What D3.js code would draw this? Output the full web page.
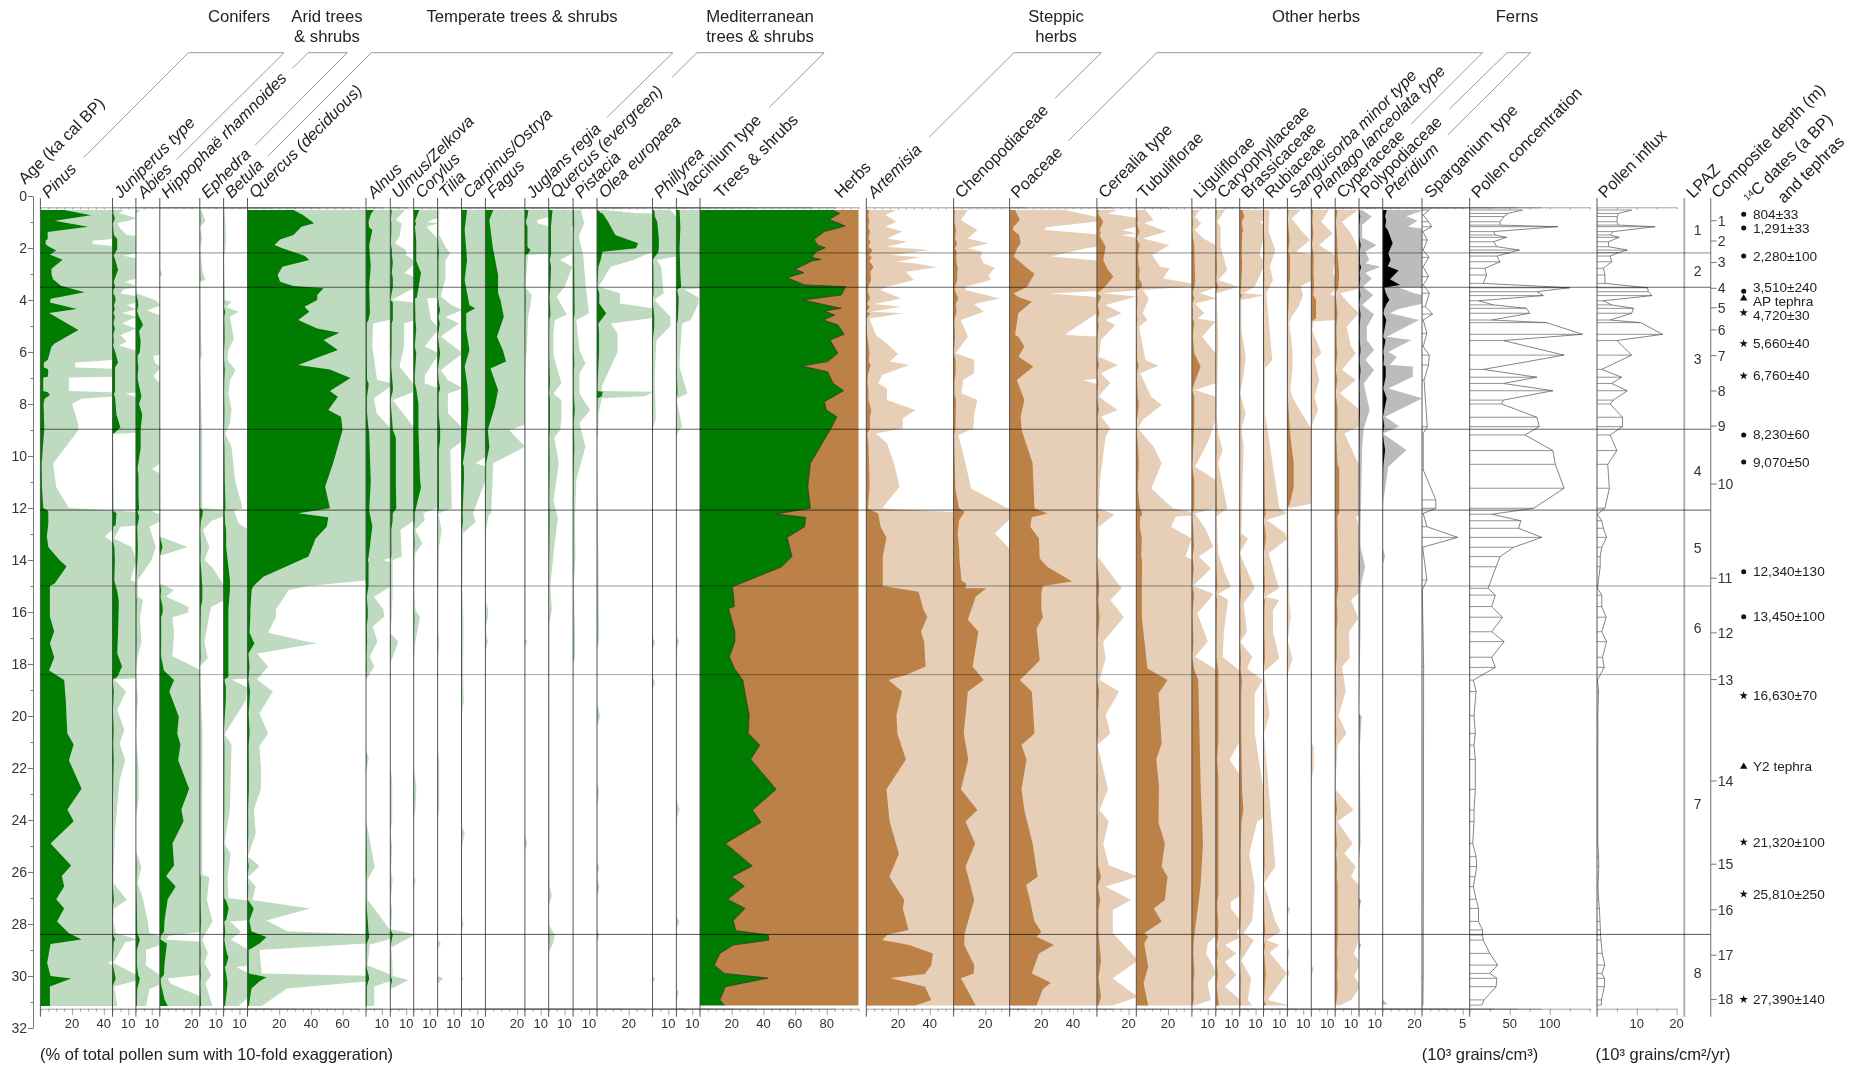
<!DOCTYPE html>
<html><head><meta charset="utf-8">
<style>html,body{margin:0;padding:0;background:#fff}svg{display:block;font-family:"Liberation Sans",Arial,sans-serif;filter:blur(.35px)}</style>
<script src="https://cdnjs.cloudflare.com/ajax/libs/d3/7.8.5/d3.min.js"></script></head><body>
<svg id="c" width="1858" height="1066"></svg>
<script>
// ---- pollen percentages: [age ka, %]
const pinus=[[.54,15],[.74,32],[.95,9],[1.18,30],[1.38,4.6],[1.65,4.6],[1.72,3.3],[1.85,3.3],[1.92,4.6],[2.1,10],[2.25,6],[2.45,14],[2.8,7],[3,7],[3.2,8],[3.45,13],[3.7,28],[3.95,6.5],[4.1,6],[4.35,23],[4.5,5.5],[5.15,24],[5.67,9],[5.8,7],[6.3,4.7],[6.4,2.2],[6.6,2.2],[6.65,4.7],[6.8,5],[6.95,4.6],[6.98,1.8],[7.5,1.8],[7.55,4.7],[7.65,6],[7.8,2.6],[8,2],[8.8,2.4],[9,2.4],[10.3,.8],[11.2,1],[12,1.8],[12.1,4.7],[12.2,5],[12.6,5],[13.1,4.06],[13.5,5],[14,12],[14.25,16.5],[14.9,9],[15,6],[15.54,6],[16.18,6],[16.75,8.7],[17.2,6],[17.75,8.7],[18.25,5.5],[18.62,15],[19.4,16],[20.67,17],[21.1,21],[21.7,18],[22.8,26],[23.6,17],[24.05,21],[24.9,6.4],[25.75,19.4],[26.15,13.5],[26.56,15],[27.05,10],[27.4,15],[27.9,10.5],[28.36,18],[28.6,26],[28.77,6.4],[29.5,4.26],[30,6.4],[30.1,19.4],[30.4,6],[31.15,6]];
const juniperus=[[.54,.7],[.65,.4],[.85,1.5],[.95,1],[1.05,.3],[1.25,.5],[1.5,.9],[1.65,3],[1.85,3],[2.05,3],[2.2,1.5],[2.3,.7],[2.4,1.5],[2.85,3.5],[3.15,1.6],[3.3,.8],[3.5,1.6],[3.6,.7],[3.75,.5],[3.85,1.5],[4,2],[4.2,.9],[4.35,1.5],[4.5,.6],[4.65,1.5],[4.9,.6],[5.1,1.5],[5.35,.5],[5.6,.9],[5.75,.4],[5.95,1.5],[6.4,3.5],[6.6,1.6],[7,1.6],[7.55,1.6],[7.6,.8],[7.75,1.6],[8.4,2.5],[8.9,5],[9.1,1.6],[9.15,.05],[12.1,.1],[12.2,2.5],[12.65,2],[12.72,.5],[13.17,.1],[13.5,1.2],[14,1.5],[14.77,1.15],[14.9,1.6],[15.2,3],[15.6,4],[16.8,3.5],[17.6,3],[18.1,6],[18.5,3],[18.6,.1],[19.06,.85],[19.77,.3],[20.54,.75],[21.05,.45],[21.7,.8],[22.46,.45],[24.5,.15],[26.4,.05],[27.08,.9],[27.4,.1],[27.85,.05],[28.36,.2],[28.6,1.6],[28.7,.8],[29.5,.05],[30.1,2],[30.4,.1],[31.15,.3]];
const abies=[[.54,.3],[.65,.05],[3.5,.02],[3.75,.1],[4,1.2],[4.2,1.6],[4.4,.7],[4.6,1.6],[4.95,4.5],[5.2,2],[5.6,3],[6,2.5],[6.15,1.1],[6.4,1.2],[6.6,1.6],[6.9,1.1],[7.1,1.3],[7.3,2],[7.7,3.5],[8,2],[8.4,4],[9,3],[9.7,3],[10.3,1.5],[10.5,1],[10.7,1.6],[11.5,1.6],[12.05,2],[12.1,.9],[12.36,2],[12.72,.85],[13.5,1.25],[14,1],[14.77,.12],[15.4,.12],[15.54,.45],[16.2,.25],[17.14,.35],[17.7,.12],[18.3,0],[19.3,.12],[20.7,0],[22,.17],[23.2,.17],[23.9,0],[25.2,0],[25.8,.35],[26.4,.12],[27.05,.45],[27.9,.75],[28.36,.85],[28.6,2.5],[29,.64],[29.6,.64],[30,1.6],[30.1,2.5],[30.5,.85],[31.15,.64]];
const hippophae=[[.54,0],[2.85,.02],[3,.17],[3.1,0],[13.1,.02],[13.5,1.75],[13.85,0],[14.9,0],[15.15,.9],[15.4,.4],[15.8,1.8],[16.02,1.8],[16.2,.8],[16.8,.9],[17.7,.8],[17.9,1.5],[18.25,2.6],[18.62,9],[19.06,6],[20.03,12],[20.67,11],[21.1,13],[21.7,11.6],[22.8,18.5],[23.6,13.6],[24.05,15],[24.9,8],[25.75,9],[26.15,4],[26.56,10],[27.05,5],[27.85,3],[28.3,2.6],[28.45,.6],[28.6,.37],[28.75,4.5],[29.5,3],[29.96,2.6],[30.1,.5],[30.3,.7],[30.9,3],[31.15,5]];
const ephedra=[[.54,.1],[.95,.35],[1.2,.02],[1.63,.15],[2,.02],[2.85,.15],[3.23,.35],[3.3,.02],[5.9,.1],[6.1,.15],[6.3,0],[9.3,.15],[11,.15],[12,.15],[12.1,2],[12.3,1.6],[12.5,.72],[12.85,.2],[13.5,.6],[14,.3],[14.3,.8],[15.05,1.6],[15.54,1.6],[15.8,.72],[16.18,.58],[17.14,.3],[17.78,.5],[18.1,0],[19,.06],[20.67,.17],[21.5,.17],[23.5,.15],[24.5,.15],[26.1,.15],[26.2,.6],[27.08,.45],[27.9,.8],[28.6,.15],[29.1,.5],[29.5,.3],[29.96,.72],[30.28,.35],[31.15,.8]];
const betula=[[.54,.05],[.99,.1],[1.63,.15],[2.08,.1],[2.3,.02],[4,.1],[4.07,.5],[4.27,.15],[4.45,.95],[4.65,.4],[5.5,.65],[5.92,.3],[6.3,.23],[6.7,.75],[7.1,.4],[7.6,.3],[8.2,.5],[8.74,.4],[9.13,.1],[9.64,.5],[10.92,.72],[12.01,1.2],[12.1,.65],[12.6,.95],[12.85,1.6],[13.5,1.6],[14.77,4],[15.15,4],[15.9,3],[17,3],[18.5,3],[18.6,.5],[18.9,1.5],[19.4,1.4],[20.7,.05],[21.1,.5],[23.6,.4],[24.9,.05],[25.3,.45],[26.2,.25],[27,.3],[27.1,1.6],[27.4,3.2],[27.85,1.6],[27.9,.4],[28.3,1.1],[28.6,.45],[29,1.6],[29.3,3],[29.6,1.6],[29.65,.8],[29.9,1.6],[30.3,2.5],[31.15,.95]];
const quercusD=[[.54,29],[.73,35],[1.05,42],[1.18,34],[1.5,29],[1.67,20.6],[1.88,17],[2.01,22],[2.3,36],[2.46,39],[2.72,22],[3.04,19],[3.3,20.6],[3.46,29],[3.55,48],[3.81,44],[4,44],[4.26,36],[4.45,39],[4.77,32],[5.1,44],[5.26,58],[5.54,48],[5.92,57],[6.17,46],[6.5,32],[6.67,52],[7,65],[7.5,52],[7.72,57],[8.23,51],[8.49,59],[9,60],[10.28,54],[11.18,49],[12.01,52],[12.2,32],[12.36,51],[12.72,50],[13.17,43],[13.87,38.5],[14.64,10],[15,3.8],[15.15,2.6],[15.9,1.8],[16.18,1.8],[16.8,1.3],[17.14,3.8],[17.2,4.4],[17.6,.6],[18.1,1.3],[18.6,.6],[19.06,1.6],[19.9,.75],[20.67,1.3],[21.15,.75],[22,.85],[22.8,.85],[23.6,.4],[24.5,.52],[25.4,.03],[25.77,.75],[26.2,.03],[26.56,.52],[27.08,.3],[27.4,3.95],[27.87,1.2],[28.28,2.5],[28.4,7.6],[28.5,12],[28.75,7.6],[29,.75],[29.9,.9],[30.05,12],[30.2,7.6],[30.48,2.5],[31.15,.9]];
const alnus=[[.54,5],[.7,3],[.99,1.6],[1.2,2],[1.31,4],[1.9,2],[2.7,3],[3.5,2],[4.5,2.5],[4.75,1.6],[4.9,.45],[5.8,.4],[7.08,.7],[7.2,1.6],[7.3,1.6],[7.78,.5],[8.36,.67],[8.9,1.5],[9.1,2],[11,3],[12.1,2],[12.7,4],[13.9,1.6],[14,1.1],[14.1,1.6],[15,1.6],[15.41,.5],[15.9,1.1],[16.18,1.15],[16.56,.43],[17.14,.72],[17.72,.23],[18.1,.52],[18.62,0],[21.3,0],[21.6,.17],[22.2,0],[24,0],[25.8,.55],[26.3,.1],[27.08,.1],[27.4,.52],[28.3,1.6],[28.5,2],[28.8,.23],[29.6,.1],[29.96,1.6],[30.1,2],[30.4,.52],[31.15,.52]];
const ulmus=[[.54,.93],[.92,.35],[1.05,.72],[1.56,.58],[1.82,.3],[2.08,1],[2.27,1],[2.46,1.45],[2.59,1.6],[2.95,.9],[3.15,1.6],[3.5,1.6],[3.74,.87],[3.94,.3],[4,.05],[4.1,1.6],[4.77,1.6],[4.9,.87],[5.79,.87],[6.56,.58],[7.33,1.6],[7.5,1.6],[7.85,.15],[8.87,1.45],[9,1.6],[9.3,3.5],[11,3.5],[12.01,3.8],[12.2,1.6],[12.5,1.45],[12.85,.64],[13.87,.72],[14,.15],[15.15,.15],[16.18,.1],[16.8,0],[17.14,.5],[18,0],[21.9,0],[22.5,.12],[24,.12],[24.5,0],[25,.12],[26,.05],[26.3,.15],[27.1,.03],[27.5,.12],[28.2,.05],[28.4,1.6],[28.9,.05],[29.3,.12],[30,.15],[30.15,1.15],[30.5,.05],[31.15,0]];
const corylus=[[.54,3.5],[.9,1.2],[1,.85],[1.05,1.6],[1.18,.8],[1.7,1.6],[2.5,1.6],[2.95,4.6],[3.9,2],[3.94,.85],[4.77,1.1],[5.1,1.6],[5.79,.7],[6.05,1.6],[6.9,.7],[7.2,.7],[7.4,1.6],[8,3],[9,3],[10.92,4],[11.2,4.6],[12.21,.6],[12.46,.7],[12.85,.1],[13.36,.55],[13.74,.1],[15.15,.03],[15.9,.1],[16.2,.4],[17.14,.1],[18,0],[21.9,0],[22.8,.17],[23.6,.1],[24,0],[26.2,0],[26.3,.12],[26.6,0],[31.15,0]];
const tilia=[[.54,.1],[1.5,.1],[1.95,.5],[2.2,.8],[2.46,.5],[3.2,.5],[3.49,.35],[3.87,.2],[4.2,.9],[4.38,1.6],[4.65,.5],[4.9,1.35],[5.4,.2],[6.05,1.6],[6.37,.9],[6.7,.2],[7.08,.65],[7.4,1.6],[7.6,.65],[8.36,.65],[8.94,1.6],[9.4,1.6],[9.77,.8],[12.01,.9],[12.21,.05],[12.85,.25],[13.5,.1],[15.1,.05],[16.8,.05],[17.14,.1],[18,0],[21.3,0],[21.7,.1],[23.6,.1],[24,0],[28.6,.02],[28.75,.2],[29,0],[30,0],[30.1,.35],[30.3,0],[31.15,0]];
const carpinus=[[.54,3.5],[1.3,2],[2.46,3.5],[3.23,2],[4.2,5],[4.32,8.7],[4.51,3],[5.15,3],[5.92,5],[6.56,2],[7.33,3.8],[8.23,4.4],[9.64,2.5],[10.28,.9],[10.4,1.5],[10.8,1.6],[12.21,.72],[12.53,.9],[12.97,.1],[15.15,.05],[16.2,.12],[17.1,.12],[18,.1],[18.5,.1],[19.4,.15],[20,0],[24.2,0],[24.5,.2],[25.1,0],[27.5,0],[28,.12],[28.3,0],[30,0],[30.1,.1],[30.3,0],[31.15,0]];
const fagus=[[.54,5],[.92,2.5],[1.95,4.6],[3.04,8],[3.74,8],[4,9.5],[4.64,11.6],[5.41,7.3],[5.92,11],[6.37,13],[6.63,3.2],[7.46,8],[8.1,6],[9,1.5],[9.64,2.5],[10.28,.5],[12.21,.36],[12.3,.2],[13,0],[15.5,0],[15.9,.17],[16.18,.17],[16.6,0],[17,.1],[17.14,.17],[17.5,0],[31.15,0]];
const juglans=[[.54,2.2],[.8,1.6],[.92,.78],[1.05,.78],[1.18,1.6],[1.95,1.6],[2.08,3.5],[2.22,2],[2.27,.2],[3.5,.02],[3.8,.42],[4.2,.35],[4.64,.2],[5.9,.12],[6.44,.05],[7,.02],[17,.03],[17.14,.14],[17.4,0],[24.5,0],[24.9,.14],[25.2,0],[31.15,0]];
const quercusE=[[.54,2.4],[1.18,1.45],[1.3,1.45],[2.2,1.5],[2.46,.72],[2.72,1.5],[3.5,1],[3.87,.5],[4.57,1.15],[4.77,.38],[5.28,.3],[6.12,.3],[7.2,.8],[7.6,.3],[7.85,.8],[8.6,.8],[9,.72],[9.3,.35],[10.28,.64],[11.7,.3],[12.4,.58],[13.49,.35],[15,.1],[15.9,.2],[16.5,.03],[26.5,.05],[26.9,.2],[27.3,0],[28,0],[28.42,.38],[28.7,.3],[29.1,0],[31.15,0]];
const pistacia=[[.54,.5],[1.05,.7],[1.56,.35],[2.27,.64],[3.36,.78],[4.51,1],[4.77,.2],[5.92,.4],[6.44,.78],[6.82,.4],[7.6,.4],[8.23,1.07],[8.74,.4],[9.64,.78],[10.92,.2],[12.4,.12],[13.9,.15],[15,.05],[16.8,.12],[17.78,.12],[18,0],[31.15,0]];
const olea=[[.54,.5],[.65,2.4],[.67,3.6],[.99,7],[1.5,11.6],[1.82,26],[2.01,24.6],[2.14,3.5],[2.3,2.9],[2.46,2.3],[2.72,.87],[3.49,.1],[3.74,1.45],[4.13,1.45],[4.32,3.6],[4.51,5.8],[4.9,.87],[5.28,1.3],[6,1.3],[7.33,.3],[7.5,.3],[7.53,3.6],[7.7,3],[7.78,.3],[8.36,.1],[9.25,.05],[9.3,0],[17,.14],[17.5,0],[19.5,0],[20,.2],[20.4,0],[22.5,0],[22.9,.12],[23.5,0],[25.6,0],[25.8,.14],[26.2,0],[26.56,.15],[27,0],[28.2,0],[28.42,.14],[28.7,0],[31.15,0]];
const phillyrea=[[.54,1.13],[.8,1.5],[1,3],[1.63,4],[2.01,4],[2.18,3.5],[2.33,1.5],[2.46,.26],[2.72,.55],[3.74,.7],[4,.12],[4.64,1.13],[5,1.13],[5.54,.26],[6.05,.2],[7.08,.14],[8.36,.2],[8.6,.2],[9,0],[17,.03],[17.14,.17],[17.5,0],[18.5,0],[18.7,.17],[19,0],[30,0],[30.1,.17],[30.3,0],[31.15,0]];
const vaccinium=[[.54,2],[1.2,2.5],[2,2],[3,2.5],[3.5,3],[3.6,.5],[3.9,1.4],[4.13,1.4],[4.77,.9],[4.9,.35],[6.37,.2],[6.6,.2],[7.6,.7],[7.8,0],[8.85,.35],[9.2,0],[16.9,.02],[17.14,.17],[17.5,0],[23.2,0],[23.6,.2],[24,0],[27.7,0],[27.9,.2],[28.2,0],[30.5,0],[30.6,.15],[31,0],[31.15,0]];
const trees=[[.54,83.5],[.67,88],[.9,81.5],[1.15,91.6],[1.37,78.5],[1.67,72],[1.88,74],[1.99,79],[2.14,73.3],[2.36,70.5],[2.44,76.2],[2.5,70.5],[2.82,60],[2.95,65.5],[3.14,55],[3.42,66],[3.49,92],[3.81,89],[4,65],[4.32,89],[4.42,78.5],[4.58,85],[4.77,77.7],[4.96,87],[5.32,91],[5.54,82],[6.05,87],[6.37,80.5],[6.54,64],[6.76,80.5],[7.2,84],[7.49,90.5],[7.91,78.5],[8.23,79.7],[8.49,86.3],[8.94,82.6],[10.28,69.6],[11.18,68],[12.01,69.6],[12.23,48],[12.36,66.6],[12.72,66],[13.13,55],[13.87,58],[14.26,51.6],[15.03,20.3],[15.28,21],[15.79,21.7],[15.86,18],[16.76,22],[17.14,22],[17.72,18.5],[18.17,21.7],[18.62,27],[19.13,28.4],[19.96,31],[20.67,30.4],[21.12,37.7],[21.67,32],[22.82,48],[23.62,33],[24.09,38.5],[24.9,16],[25.77,33],[26.18,20],[26.54,28],[27.05,17.4],[27.4,28.4],[27.87,21],[28.26,22.6],[28.42,43],[28.62,43.5],[28.81,21],[29.13,12.5],[29.58,9],[29.9,15.4],[30.08,43],[30.41,16],[30.92,12.5],[31.13,15.6]];
const artemisia=[[.54,1.9],[.73,1.2],[.99,1.9],[1.18,1.2],[1.37,2.3],[1.63,1.3],[1.76,2.6],[1.95,1.3],[2.08,4],[2.27,1.6],[2.36,3.4],[2.53,1.9],[2.59,3],[2.74,4.5],[2.91,2.5],[3.23,3],[3.49,1.3],[3.62,.9],[3.94,2.2],[4.15,.5],[4.26,2.2],[4.45,.3],[4.51,2.35],[4.71,.2],[5.35,.6],[5.67,1.3],[6.08,2],[6.37,1.5],[6.5,2.7],[6.88,1],[7.2,.75],[7.4,1.3],[7.85,1.3],[8.23,3.1],[8.55,2.3],[8.94,2.3],[9.13,.6],[9.5,1.3],[10.28,1.75],[11.18,2.1],[12.01,1],[12.06,2],[12.21,7.5],[12.72,9],[13.13,12.7],[13.87,10.4],[15,10.4],[15.22,33],[15.9,36],[16.18,38.5],[16.76,34.5],[17.14,36.5],[18.1,37.4],[18.42,25],[18.62,14],[19.06,22.6],[19.96,19],[20.67,19.6],[21.67,25],[22.82,12.7],[24.06,14.7],[25.3,20.6],[26.18,14.5],[27.08,24],[27.4,23],[28.23,26.7],[28.4,13.5],[28.62,10],[28.81,27],[29.13,42],[29.58,41],[29.92,37],[30.08,15],[30.41,37],[30.92,41],[31.13,31]];
const chenopod=[[.54,.9],[.92,.45],[1.31,1.5],[1.63,.9],[1.82,2.2],[2.01,.9],[2.14,1.8],[2.36,1.7],[2.59,1.9],[2.76,2.6],[3.04,2.2],[3.23,2.35],[3.49,.75],[3.62,.75],[3.94,2.9],[4.15,1.3],[4.45,1.9],[4.77,.45],[5.41,.9],[6.05,.12],[6.3,1.3],[6.82,1.3],[7.08,.6],[7.6,.5],[7.85,1.5],[8.36,1.3],[8.94,1.25],[9.2,.3],[10.28,.75],[11.25,1.1],[12.01,3.4],[12.14,7],[12.46,3.5],[12.97,2.6],[13.55,3.5],[13.9,3.6],[14.8,5],[14.9,8],[15.09,7.5],[15.09,20.6],[15.4,14],[16.3,9],[16.76,15.6],[18.1,12],[18.62,19],[19.06,9],[20.67,6.4],[21.67,9.3],[22.82,4.6],[23.62,15],[24.06,7.5],[24.9,13.6],[25.8,7.5],[27.08,13],[28.36,7],[28.81,6.7],[29.58,13],[29.9,12.7],[30.09,4.6],[31.13,14]];
const poaceae=[[.54,3.5],[.92,6.4],[1.2,2.3],[1.31,2.2],[1.5,6],[1.82,7],[2.01,4.8],[2.33,2.6],[2.72,10],[2.99,15.7],[3.49,11],[3.75,2.5],[3.88,5.5],[4.07,14],[4.51,5.5],[5.28,3.6],[5.35,3.6],[5.41,5.6],[5.79,9.3],[6.18,5.6],[6.56,15],[7.08,4.6],[7.85,9.3],[8.49,7],[9,7.6],[10.28,14.5],[12.01,15.7],[12.21,24],[12.36,14],[12.72,13],[13.17,18.5],[13.94,19],[14.26,23.7],[14.83,39.4],[15,21],[15.28,20],[15.9,20],[16.2,21],[16.63,17],[17.86,19],[18.17,14],[18.62,6.4],[19.06,14],[19.96,15],[20.67,15.7],[21.12,7.5],[21.67,10.7],[22.82,7.5],[23.62,9.3],[24.9,14.5],[26.18,17.7],[26.5,10.4],[27.05,12.7],[27.9,15.7],[28.3,20],[28.49,17],[28.81,28],[29.13,18.5],[29.9,14],[30.26,26],[30.5,21],[31.13,17]];
const cerealia=[[.54,1.3],[.67,.7],[.99,4],[1.31,1.6],[1.44,2.5],[1.5,1.5],[1.95,5.5],[2.46,4],[2.85,7],[3.1,10.4],[3.46,5.5],[3.74,.4],[3.87,2.5],[4.19,.55],[4.51,1.55],[4.77,.55],[4.96,1.15],[5.54,.26],[6.18,.12],[6.5,1.3],[6.82,.26],[7.2,.85],[7.59,.26],[7.72,.12],[8.23,1.3],[8.49,.26],[8.94,.85],[9.25,.55],[10.92,.2],[12.01,.12],[12.26,1.1],[12.72,.12],[13.87,.05],[15.09,1.56],[15.54,.85],[16.2,1.7],[17.14,.4],[17.78,.55],[18.62,.17],[19.06,1.4],[19.96,.55],[20.67,.85],[21.12,.03],[22.82,.7],[23.62,.17],[24.06,.75],[24.9,.4],[25.74,.75],[26.18,2.6],[26.56,.55],[27.08,2.15],[27.46,1],[28.36,1],[28.8,1.7],[29.4,2.6],[30.09,1],[30.41,1.7],[30.8,2.6],[31.13,1]];
const tubuli=[[.54,.58],[.92,1.1],[1.05,.52],[1.37,1.9],[1.63,.4],[1.88,2.1],[2.27,1],[2.72,1.5],[2.78,2.1],[3.17,1.7],[3.36,3.4],[3.49,3.6],[3.62,.4],[3.94,.8],[4.51,.4],[4.77,.7],[5.03,.17],[6.31,.58],[6.53,1.4],[6.82,.23],[7.72,.95],[8.04,1.6],[8.62,.4],[8.94,.1],[9.64,1.1],[10.28,1.6],[11.25,.95],[12.01,2.3],[12.14,3.4],[12.28,3.6],[12.33,2.5],[12.72,2.2],[13.17,3.5],[13.87,3.1],[14,3.6],[15.54,3.5],[16.2,3.5],[18.17,7],[18.62,19.7],[19.13,14],[21.05,16],[21.67,12.6],[22.7,14.3],[24.1,14],[24.9,18],[25.79,16],[26.18,19.7],[27.08,18],[27.4,11],[27.9,16],[28.36,5],[28.49,7.5],[28.75,5],[29.64,7.5],[30.28,4.6],[31.13,7.5]];
const liguli=[[.54,.5],[.79,.2],[1.05,.58],[1.31,.2],[1.63,.72],[1.88,1.5],[2.4,1.6],[3.23,2.1],[3.49,1.6],[3.74,.5],[3.94,1.55],[4.13,.2],[4.51,.78],[4.71,.35],[4.83,1.5],[5.41,.64],[6.05,1.5],[6.56,5.5],[7.2,1.5],[7.46,.2],[7.72,1.5],[8.62,1.5],[9.38,1.07],[10.41,.2],[10.92,1.5],[12.01,1.5],[12.21,.2],[12.85,.9],[13.49,1.35],[13.87,.43],[14.33,1.2],[15,.06],[15.3,1.35],[15.54,1.07],[16.05,.35],[17.14,1],[17.72,.2],[18.2,1.5],[18.62,4],[22.82,5.6],[24.9,7],[26.56,5.4],[28.4,1.6],[28.75,1],[29.13,.9],[29.64,1.35],[29.9,1.5],[30.28,.98],[30.92,1.2],[31.13,.2]];
const caryo=[[.54,.58],[.99,.09],[1.18,.3],[1.95,.3],[2.85,.72],[3.23,.15],[3.49,1.45],[3.74,.06],[5.54,.15],[8.36,.06],[9.13,.15],[9.77,.43],[10.28,.15],[12.01,.72],[12.33,.06],[13.74,.15],[14.51,.58],[15.03,.95],[15.3,.15],[15.54,.78],[16.7,.52],[17.72,.43],[18.3,1.6],[20.9,1.6],[21.67,.87],[22.34,1.6],[26.9,1.6],[27.13,.95],[27.4,.95],[27.9,1.6],[28.4,1.3],[28.5,1.6],[28.81,.58],[29.13,1.3],[29.45,.58],[29.96,1.3],[30.41,.58],[31.13,1.95]];
const brassica=[[.54,1.6],[.8,3],[.99,1.25],[1.37,2.2],[1.4,1.6],[2.27,1.25],[2.59,1.6],[3.49,.95],[3.74,.25],[3.81,1.6],[4,.1],[5.15,.1],[6.18,.38],[6.88,.25],[7.6,.02],[8.36,.38],[8.94,.1],[9.64,.25],[12.97,.1],[13.17,.52],[13.74,0],[15.09,.95],[15.54,.4],[15.67,.25],[16.76,.46],[17.14,.03],[17.72,.8],[18.17,.46],[18.62,1.45],[19.13,.95],[20.67,.95],[22.85,1.5],[23.62,2.3],[24.06,1.1],[25.3,.6],[26.56,.95],[27.85,.8],[28.36,.25],[28.62,.9],[29.4,.1],[30.09,.72],[30.92,.52],[31.13,.8]];
const rubia=[[.54,.38],[1.37,.32],[2.08,.75],[2.72,.4],[3.23,.6],[3.74,.18],[6.31,.55],[6.62,.1],[8.36,.1],[12.01,1],[12.21,1.48],[12.46,.18],[12.97,1.38],[13.2,1.48],[13.74,.32],[15.09,.98],[15.42,.1],[15.54,1],[15.93,.6],[16.76,.6],[17.78,1],[18.3,.03],[19.96,.38],[20.67,.03],[25.79,.75],[26.44,.03],[27.9,.75],[28.3,1.1],[28.62,.18],[28.81,1],[29.1,.38],[29.9,1.48],[30.92,.26],[31.13,1.65]];
const sanguis=[[.54,.84],[.86,.26],[1.31,.84],[1.69,1.42],[2.14,.55],[2.27,1.6],[3.23,1.6],[3.46,.84],[3.81,.98],[4.26,.7],[4.64,.26],[4.9,.12],[5.92,.32],[6.69,.32],[7.46,.18],[7.85,.4],[8.87,1.42],[9,1.6],[9.3,2],[10.3,4],[11.2,4],[11.82,1.6],[12.01,.05],[15.54,.12],[16.18,.2],[17.14,.03],[17.78,.32],[18.42,0],[27.3,0],[27.4,.18],[27.7,0],[28.9,0],[29,.12],[29.7,0],[29.85,.12],[30.2,0],[31.13,.05]];
const plantago=[[.54,1.1],[.99,.64],[1.44,1.35],[1.88,.5],[2.33,1.6],[2.95,1.35],[3.23,1.6],[3.49,1.6],[3.81,1.2],[4,3],[4.7,3],[4.83,.15],[5.15,.06],[6.05,.64],[6.3,.2],[7.08,.5],[7.72,.2],[8.23,.43],[8.8,.06],[8.94,0],[21,0],[21.2,.15],[22,.15],[22.5,0],[29.6,0],[29.7,.15],[30,0],[31.13,0]];
const cyperac=[[.54,1.45],[.99,.43],[1.44,1],[1.82,1.3],[2.2,1.5],[3,2.5],[3.49,2],[3.74,.3],[4.13,.87],[4.51,1.5],[5.03,.72],[5.79,1],[6.05,1.3],[6.69,.43],[7.08,1.3],[7.59,.3],[8.17,1.45],[8.87,1.5],[9.13,.58],[10.28,1.45],[10.5,2.5],[12.21,2.5],[12.33,1.3],[12.85,1.6],[15,2],[15.54,1],[16.25,1.45],[16.76,.87],[17.76,.92],[18.1,.43],[19.06,.67],[19.99,.2],[20.67,.72],[21.12,.15],[22.82,0],[23.62,1.16],[24.06,.15],[24.9,1.1],[25.3,.58],[25.79,1.3],[26.18,1],[26.56,1.6],[28.5,1.6],[29.13,1.16],[29.5,1.6],[30,1.2],[30.41,1.6],[30.92,1],[31.13,.3]];
const polypod=[[.54,.2],[.79,.8],[1.12,.2],[1.6,.2],[1.88,1.1],[2.14,.4],[2.46,.65],[2.59,.4],[2.72,1.35],[2.95,.4],[3.17,.8],[3.49,.25],[3.81,.9],[4.19,.2],[4.55,.95],[5.03,.5],[5.54,.5],[5.92,.95],[6.3,.4],[6.69,.95],[7.21,.3],[8.23,.67],[8.94,.3],[9.64,.2],[12.65,.1],[13.49,.1],[14.26,.38],[15.03,.1],[16.5,.1],[19.9,0],[20,.17],[21.2,.05],[23,.08],[24.9,.1],[25.5,0],[27,0],[27.1,.14],[27.5,0],[28.7,.02],[28.8,.14],[29,0],[31.13,0]];
const pteridium=[[.54,2.6],[.78,1.5],[.95,2.2],[1.18,1.6],[1.31,3.2],[1.82,6.3],[2.2,3.5],[2.46,5],[2.7,3.2],[2.87,10],[3.2,4.6],[3.42,11],[3.52,1],[3.74,2],[4,4.2],[4.13,2.6],[4.35,1],[4.51,.45],[4.77,2.3],[5.41,.25],[5.54,1.8],[6,.35],[6.18,.9],[6.5,.45],[6.56,1.9],[6.95,1.9],[7.4,.35],[7.78,2.5],[8.49,.15],[8.87,1.05],[9.13,0],[9.77,1.5],[10.41,.35],[11.69,.05],[12,0],[13.5,0],[13.87,.15],[14.2,0],[30.9,0],[31.1,.3]];
// ---- sparganium, pollen concentration and influx samples
const sparganium=[[.54,.9],[.73,.15],[.99,.8],[1.18,1.2],[1.37,.1],[1.69,.65],[2.08,.15],[2.36,.85],[2.72,.15],[3.1,.8],[3.42,.15],[3.74,.9],[4.26,.4],[4.54,1.3],[4.77,.15],[5.28,.6],[5.79,.15],[6.12,.9],[6.5,.8],[7.08,.25],[8.87,.65],[9.13,.15],[10.54,.15],[11.69,1.7],[12.01,1.7],[12.21,.15],[12.72,.6],[13.13,4.4],[13.51,.08],[14.77,.6],[15.15,.04],[18.1,.2],[30.05,.15],[31.13,.1]];
const concentration=[[.54,66],[.67,48],[.79,43],[.99,38],[1.12,38],[1.18,110],[1.37,30],[1.5,32],[1.59,46],[1.76,30],[1.95,34],[2.08,62],[2.18,50],[2.31,34],[2.53,38],[2.78,19],[3.04,21],[3.36,17],[3.53,125],[3.68,84],[3.83,92],[4.03,11],[4.19,30],[4.32,71],[4.51,75],[4.77,27.5],[4.87,96],[5.32,141],[5.56,42],[6.12,118],[6.67,17],[6.97,84],[7.21,42],[7.49,104],[7.85,42],[8,40],[8.51,84],[8.87,87],[9.19,69],[9.79,104],[10.32,107],[11.24,118],[12.01,80],[12.24,27.5],[12.49,64],[12.78,61],[13.13,90],[13.51,55],[13.87,38],[14.26,33],[15.09,23],[15.35,32],[15.79,27.5],[16.2,41],[16.76,27.5],[17.14,43],[17.74,27.5],[18.13,32],[18.62,4.6],[19.06,8],[19.99,5.4],[20.67,7],[21.12,5.4],[21.67,7],[22.82,7],[23.62,5.4],[24.06,5.4],[24.9,3.8],[25.41,8],[25.79,8.8],[26.18,6.7],[26.56,4.6],[27.05,8],[27.4,11],[27.9,11],[28.23,16],[28.42,16],[28.62,17],[29.13,25],[29.58,35],[29.9,25],[30.09,34],[30.41,33],[30.92,18],[31.12,15]];
const influx=[[.54,8.7],[.67,5.4],[.79,5.1],[.99,5],[1.12,5.4],[1.18,14.6],[1.37,4.1],[1.5,3.3],[1.59,5.6],[1.76,2.9],[1.95,2.9],[2.08,7.6],[2.18,5.4],[2.31,3.3],[2.53,3.7],[2.78,1.6],[3.04,2],[3.36,2],[3.53,12.7],[3.68,12.9],[3.83,13.8],[4.03,1.6],[4.19,3.7],[4.32,9.2],[4.51,8.7],[4.77,3.3],[4.87,11],[5.32,16.5],[5.56,5],[6.12,8.7],[6.67,1.2],[6.97,6.2],[7.21,3.7],[7.49,7.6],[7.85,4.1],[8,3.3],[8.51,6.4],[8.87,6.4],[9.19,3.3],[9.79,5],[10.32,2.7],[11.24,3.1],[12.01,2],[12.24,.1],[12.49,1.2],[12.78,1.6],[13.13,2.4],[13.51,1.2],[13.87,.8],[14.26,.8],[15.09,.1],[15.35,1.2],[15.79,1.2],[16.2,2.3],[16.76,1.2],[17.14,2.4],[17.74,1.4],[18.13,1.8],[18.62,.1],[19.06,.4],[19.99,.2],[20.67,.25],[21.12,.2],[21.67,.2],[22.82,.2],[23.62,.2],[24.06,.2],[24.9,.2],[25.41,.4],[25.79,.45],[26.18,.35],[26.56,.25],[27.05,.4],[27.4,.6],[27.9,.75],[28.23,.85],[28.42,.9],[28.62,1],[29.13,1.3],[29.58,2],[29.9,1.2],[30.09,1.9],[30.41,1.85],[30.92,1.1],[31.12,1.1]];
// ---- axis and annotation values
const ageTicks=d3.range(0,33);
const zoneAges=[2.19,3.51,8.97,12.08,15,18.41,28.4];
const lpazLabels=["1","2","3","4","5","6","7","8"];
const lpazAges=[1.31,2.88,6.27,10.57,13.55,16.6,23.4,29.88];
const depthLabels=[1,2,3,4,5,6,7,8,9,10,11,12,13,14,15,16,17,18];
const depthAges=[.95,1.73,2.56,3.55,4.3,5.15,6.14,7.5,8.85,11.08,14.7,16.8,18.6,22.5,25.7,27.45,29.2,30.9];
const dateLabels=["804±33","1,291±33","2,280±100","3,510±240","AP tephra","4,720±30","5,660±40","6,760±40","8,230±60","9,070±50","12,340±130","13,450±100","16,630±70","Y2 tephra","21,320±100","25,810±250","27,390±140"];
const dateTextAges=[.7,1.23,2.3,3.49,4.04,4.6,5.67,6.91,9.18,10.23,14.42,16.18,19.2,21.93,24.85,26.84,30.9];
const dateMarkAges=[.7,1.23,2.31,3.66,3.94,4.49,5.68,6.92,9.19,10.23,14.45,16.18,19.22,21.95,24.85,26.85,30.9];
const dateKinds=["c","c","c","c","t","s","s","s","c","c","c","c","s","t","s","s","s"];

// ---- layout
const W=1858,PCT=1.585,Y0=196,PXKA=26;
const y=d3.scaleLinear().domain([0,32]).range([Y0,Y0+32*PXKA]);
const GREEN=["#007d00","#bfdbbf"],BROWN=["#bc8146","#e7ceb6"],GREY=["#000","#bcbcbc"];
const panels=[
 {n:"Pinus",d:pinus,x:40.4,m:40,l:[20,40],c:GREEN},
 {n:"Juniperus type",d:juniperus,x:112.5,m:10,l:[10],c:GREEN},
 {n:"Abies",d:abies,x:135.9,m:10,l:[10],c:GREEN},
 {n:"Hippophaë rhamnoides",d:hippophae,x:159.8,m:20,l:[20],c:GREEN},
 {n:"Ephedra",d:ephedra,x:199.8,m:10,l:[10],c:GREEN},
 {n:"Betula",d:betula,x:223.6,m:10,l:[10],c:GREEN},
 {n:"Quercus (deciduous)",d:quercusD,x:247.5,m:70,l:[20,40,60],c:GREEN},
 {n:"Alnus",d:alnus,x:366,m:10,l:[10],c:GREEN},
 {n:"Ulmus/Zelkova",d:ulmus,x:390.3,m:10,l:[10],c:GREEN},
 {n:"Corylus",d:corylus,x:413.7,m:10,l:[10],c:GREEN},
 {n:"Tilia",d:tilia,x:437.6,m:10,l:[10],c:GREEN},
 {n:"Carpinus/Ostrya",d:carpinus,x:461.5,m:10,l:[10],c:GREEN},
 {n:"Fagus",d:fagus,x:485.4,m:20,l:[20],c:GREEN},
 {n:"Juglans regia",d:juglans,x:524.9,m:10,l:[10],c:GREEN},
 {n:"Quercus (evergreen)",d:quercusE,x:548.7,m:10,l:[10],c:GREEN},
 {n:"Pistacia",d:pistacia,x:573.1,m:10,l:[10],c:GREEN},
 {n:"Olea europaea",d:olea,x:597,m:30,l:[20],c:GREEN},
 {n:"Phillyrea",d:phillyrea,x:652.5,m:10,l:[10],c:GREEN},
 {n:"Vaccinium type",d:vaccinium,x:676.4,m:10,l:[10],c:GREEN},
 {n:"Artemisia",d:artemisia,x:866.3,m:50,l:[20,40],c:BROWN},
 {n:"Chenopodiaceae",d:chenopod,x:953.6,m:30,l:[20],c:BROWN},
 {n:"Poaceae",d:poaceae,x:1009.6,m:50,l:[20,40],c:BROWN},
 {n:"Cerealia type",d:cerealia,x:1096.9,m:20,l:[20],c:BROWN},
 {n:"Tubuliflorae",d:tubuli,x:1136.3,m:30,l:[20],c:BROWN},
 {n:"Liguliflorae",d:liguli,x:1191.9,m:10,l:[10],c:BROWN},
 {n:"Caryophyllaceae",d:caryo,x:1215.8,m:10,l:[10],c:BROWN},
 {n:"Brassicaceae",d:brassica,x:1239.7,m:10,l:[10],c:BROWN},
 {n:"Rubiaceae",d:rubia,x:1263.5,m:10,l:[10],c:BROWN},
 {n:"Sanguisorba minor type",d:sanguis,x:1287.4,m:10,l:[10],c:BROWN},
 {n:"Plantago lanceolata type",d:plantago,x:1311.3,m:10,l:[10],c:BROWN},
 {n:"Cyperaceae",d:cyperac,x:1335.2,m:10,l:[10],c:BROWN},
 {n:"Polypodiaceae",d:polypod,x:1359,m:10,l:[10],c:GREY},
 {n:"Pteridium",d:pteridium,x:1382.7,m:20,l:[20],c:GREY}
];
const ROMAN_UPRIGHT=new Set(["Vaccinium type","Chenopodiaceae","Poaceae","Cerealia type","Tubuliflorae","Liguliflorae","Caryophyllaceae","Brassicaceae","Rubiaceae","Cyperaceae","Polypodiaceae"]);
const TREES_X=700,ART_X=866.3,SPARG_X=1422,CONC_X=1469.7,INFL_X=1597,LPAZ_X=1684.3,DEPTH_X=1710.7;
const svg=d3.select("#c");
const defs=svg.append("defs");
const gArea=svg.append("g"),gAxis=svg.append("g"),gZone=svg.append("g"),gText=svg.append("g");
const TOP=207.3,BOT=1008.7,LT=198,LB=1016.7;

function drawAxis(sc,x,max,step,labels){
 [[TOP,false],[BOT,true]].forEach(([yy,isBot])=>{
  const g=gAxis.append("g").attr("transform",`translate(0,${yy})`);
  const ax=d3.axisBottom(sc).tickValues(d3.range(0,max+1e-6,step)).tickFormat("").tickSizeOuter(0).tickSizeInner(isBot?3:2);
  g.call(ax);
  g.selectAll("path").attr("stroke","#666").attr("stroke-width",.6);
  g.selectAll("line").attr("stroke","#666").attr("stroke-width",.6).filter(d=>isBot&&labels.includes(d)).attr("y2",6.5);
 });
 labels.forEach(v=>gAxis.append("text").attr("x",sc(v)).attr("y",1028).attr("text-anchor","middle").attr("font-size",13).attr("fill","#333").text(v));
}
function vline(x,col="#444",w=.9){gAxis.append("line").attr("x1",x).attr("x2",x).attr("y1",LT).attr("y2",LB).attr("stroke",col).attr("stroke-width",w);}

// percentage panels with tenfold exaggeration clipped at the next panel
panels.forEach((p,i)=>{
 const nextX=i===panels.length-1?SPARG_X:(p.n==="Vaccinium type"?TREES_X:panels[i+1].x);
 const sc=d3.scaleLinear().domain([0,100]).range([p.x,p.x+100*PCT]);
 const id="clip"+i;
 defs.append("clipPath").attr("id",id).append("rect").attr("x",p.x).attr("y",y(0)).attr("width",nextX-p.x).attr("height",y(32)-y(0));
 const area=f=>d3.area().x0(sc(0)).x1(d=>sc(d[1]*f)).y(d=>y(d[0]));
 const g=gArea.append("g").attr("clip-path",`url(#${id})`);
 g.append("path").attr("d",area(10)(p.d)).attr("fill",p.c[1]);
 g.append("path").attr("d",area(1)(p.d)).attr("fill",p.c[0]);
 vline(p.x);
 drawAxis(sc,p.x,p.m,5,p.l);
});

// Trees & shrubs / Herbs summary
{
 const sc=d3.scaleLinear().domain([0,100]).range([TREES_X,TREES_X+100*PCT]);
 gArea.append("path").attr("d",d3.area().x0(d=>sc(d[1])).x1(sc(100)).y(d=>y(d[0]))(trees)).attr("fill",BROWN[0]);
 gArea.append("path").attr("d",d3.area().x0(sc(0)).x1(d=>sc(d[1])).y(d=>y(d[0]))(trees)).attr("fill","#007d00");
 gArea.append("path").attr("d",d3.line().x(d=>sc(d[1])).y(d=>y(d[0]))(trees)).attr("fill","none").attr("stroke","#222").attr("stroke-width",.7);
 vline(TREES_X);
 drawAxis(sc,TREES_X,100,5,[20,40,60,80]);
}
// Line and bar panels
[[sparganium,SPARG_X,40.7/5,5,1,[5]],[concentration,CONC_X,.8,150,25,[50,100]],[influx,INFL_X,3.98,20,5,[10,20]]].forEach(([d,x,k,m,st,lab])=>{
 const sc=d3.scaleLinear().domain([0,m]).range([x,x+m*k]);
 const g=gArea.append("g");
 g.selectAll("line").data(d).join("line").attr("x1",sc(0)).attr("x2",e=>sc(e[1])).attr("y1",e=>y(e[0])).attr("y2",e=>y(e[0])).attr("stroke","#666").attr("stroke-width",.7);
 g.append("path").attr("d",d3.line().x(e=>sc(e[1])).y(e=>y(e[0]))(d)).attr("fill","none").attr("stroke","#666").attr("stroke-width",.8);
 vline(x);
 drawAxis(sc,x,m,st,lab);
});
// Age axis
{
 const g=gAxis.append("g").attr("transform","translate(33,0)").call(d3.axisLeft(y).tickValues(ageTicks).tickFormat(d=>d%2?"":d).tickSizeOuter(0));
 g.selectAll("path").attr("stroke","#777");
 g.selectAll("line").attr("stroke","#777").attr("x2",d=>d%2?-2.5:-5);
 g.selectAll("text").attr("font-size",14).attr("font-family","'Liberation Sans'").attr("fill","#333").attr("x",-6);
}
// LPAZ and depth axis
gAxis.append("line").attr("x1",LPAZ_X).attr("x2",LPAZ_X).attr("y1",LT).attr("y2",LB).attr("stroke","#aaa").attr("stroke-width",1.8);
{
 const g=gAxis.append("g").attr("transform",`translate(${DEPTH_X},0)`);
 g.append("line").attr("y1",LT).attr("y2",LB).attr("stroke","#888").attr("stroke-width",1.2);
 const sel=g.selectAll("g").data(depthLabels).join("g").attr("transform",(d,i)=>`translate(0,${y(depthAges[i])})`);
 sel.append("line").attr("x2",6).attr("stroke","#777");
 sel.append("text").attr("x",7).attr("dy",".35em").attr("font-size",14).attr("fill","#333").text(d=>d);
}
gText.selectAll("text.lp").data(lpazLabels).join("text").attr("x",1697.7).attr("y",(d,i)=>y(lpazAges[i])).attr("dy",".35em").attr("text-anchor","middle").attr("font-size",14).attr("fill","#333").text(d=>d);
// zone lines
gZone.selectAll("line").data(zoneAges).join("line").attr("x1",40).attr("x2",DEPTH_X).attr("y1",d=>y(d)).attr("y2",d=>y(d)).attr("stroke","#000").attr("stroke-opacity",(d,i)=>[.45,.6,.6,.65,.4,.35,.65][i]).attr("stroke-width",1);
// dates
const sym={c:d3.symbolCircle,t:d3.symbolTriangle,s:d3.symbolStar};
const sz={c:20,t:24,s:22};
dateLabels.forEach((t,i)=>{
 gText.append("path").attr("d",d3.symbol().type(sym[dateKinds[i]]).size(sz[dateKinds[i]])()).attr("transform",`translate(1743.7,${y(dateMarkAges[i])})`).attr("fill","#111");
 gText.append("text").attr("x",1753).attr("y",y(dateTextAges[i])).attr("dy",".35em").attr("font-size",13.6).attr("fill","#222").text(t);
});
// rotated headers
function rot(x,yy,t,it,fs=16.4){gText.append("text").attr("transform",`translate(${x},${yy}) rotate(-45)`).attr("font-size",fs).attr("font-style",it?"italic":"normal").attr("fill","#222").text(t);}
rot(25,185,"Age (ka cal BP)",false);
panels.forEach(p=>rot(p.x+8,199,p.n,!ROMAN_UPRIGHT.has(p.n)));
rot(721,199,"Trees & shrubs",false);rot(841,199,"Herbs",false);
rot(1431,199,"Sparganium type",false);rot(1478,199,"Pollen concentration",false);rot(1605,199,"Pollen influx",false);
rot(1693,199,"LPAZ",false);rot(1718,199,"Composite depth (m)",false);
{
 const t=gText.append("text").attr("transform","translate(1750,204) rotate(-45)").attr("font-size",16.4).attr("fill","#222");
 t.append("tspan").attr("font-size",9.5).attr("dy",-4).text("14");t.append("tspan").attr("dy",4).text("C dates (a BP)");
 rot(1784,204,"and tephras",false);
}
// group titles
const titles=[["Conifers",239,16],["Arid trees",327,16],["& shrubs",327,36],["Temperate trees & shrubs",522,16],["Mediterranean",760,16],["trees & shrubs",760,36],["Steppic",1056,16],["herbs",1056,36],["Other herbs",1316,16],["Ferns",1517,16]];
gText.selectAll("text.t").data(titles).join("text").attr("x",d=>d[1]).attr("y",d=>d[2]).attr("dy",".35em").attr("text-anchor","middle").attr("font-size",16.7).attr("fill","#222").text(d=>d[0]);
// bracket lines
const brackets=[[[83.5,157.7],[188.4,52.7],[284,52.7],[176.3,160]],[[292.4,68.3],[308,52.7],[347.3,52.7],[255.4,145]],[[267.9,156],[371.4,52.7],[672.8,52.7],[607.1,117.3]],[[672,77.3],[697,52.7],[824.2,52.7],[769.3,107.3]],[[929,137.3],[1014,52.7],[1101.4,52.7],[1055,98.3]],[[1068.4,140.7],[1156.8,52.7],[1482.6,52.7],[1411,124.3]],[[1449.5,109],[1507,52.7],[1530.6,52.7],[1447.7,135]]];
gAxis.selectAll("path.b").data(brackets).join("path").attr("d",d3.line()).attr("fill","none").attr("stroke","#999").attr("stroke-width",1);
// footers
[["(% of total pollen sum with 10-fold exaggeration)",40,"start"],["(10³ grains/cm³)",1480,"middle"],["(10³ grains/cm²/yr)",1663,"middle"]].forEach(d=>gText.append("text").attr("x",d[1]).attr("y",1054).attr("dy",".35em").attr("text-anchor",d[2]).attr("font-size",16.5).attr("fill","#222").text(d[0]));
</script></body></html>
